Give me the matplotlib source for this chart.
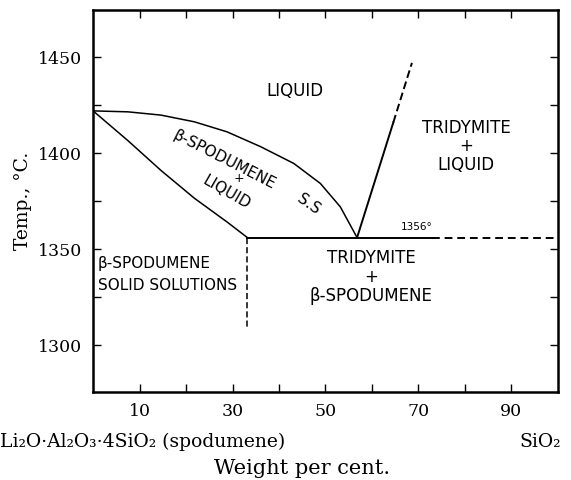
import numpy as np
import matplotlib
matplotlib.use("Agg")
import matplotlib.pyplot as plt

# liquidus of beta-spodumene s.s. (upper curve)
liq_x = [0, 7.5, 14.6, 21.8, 28.8, 36.1, 43.2, 48.9, 53.2, 56.8]
liq_t = [1422, 1421.5, 1419.8, 1416.3, 1411.1, 1403.3, 1394.6, 1384.2, 1372, 1356]
# solidus of the solid solutions (lower curve)
sol_x = [0, 7.5, 14.6, 21.8, 28.9, 33.2]
sol_t = [1422, 1406.5, 1391, 1376.5, 1364, 1356]
# tridymite liquidus
tri_solid_x = [56.8, 64.6]
tri_solid_t = [1356, 1416]
tri_dash_x = [64.6, 68.6]
tri_dash_t = [1416, 1447]
# 1356 isotherm
iso_solid_x = [33.2, 73]
iso_dash_x = [73, 100]
iso_t = 1356
# limit of solid solutions
ss_x = 33.2
ss_t = [1356, 1309]

xticks = [10, 20, 30, 40, 50, 60, 70, 80, 90]
xlabels = ["10", "", "30", "", "50", "", "70", "", "90"]
yticks = [1300, 1325, 1350, 1375, 1400, 1425, 1450]
ylabels = ["1300", "", "1350", "", "1400", "", "1450"]

SERIF = ["DejaVu Serif"]
HAND = "DejaVu Sans"

fig = plt.figure(figsize=(5.71, 4.8), dpi=100)
ax = fig.add_axes([0.163, 0.183, 0.814, 0.796])

lw = 1.1
ax.plot(liq_x, liq_t, color="black", lw=lw)
ax.plot(sol_x, sol_t, color="black", lw=lw)
ax.plot(tri_solid_x, tri_solid_t, color="black", lw=lw + 0.3)
ax.plot(tri_dash_x, tri_dash_t, color="black", lw=lw + 0.3, ls=(0, (4, 2)))
ax.plot(iso_solid_x, [iso_t, iso_t], color="black", lw=lw + 0.3)
ax.plot(iso_dash_x, [iso_t, iso_t], color="black", lw=lw + 0.3, ls=(0, (4, 2.5)))
ax.plot([ss_x, ss_x], ss_t, color="black", lw=lw, ls=(0, (4, 2)))

ax.set_xlim(0, 100)
ax.set_ylim(1275.5, 1474.5)

ax.set_xticks(xticks)
ax.set_xticklabels(xlabels, family=SERIF, fontsize=12.5)
ax.set_yticks(yticks)
ax.set_yticklabels(ylabels, family=SERIF, fontsize=12.5)
ax.tick_params(direction="in", length=6, width=1, top=True, right=True, pad=8)
for s in ax.spines.values():
    s.set_linewidth(1.8)

ax.set_ylabel("Temp., °C.", family=SERIF, fontsize=13.5, labelpad=4)

# region labels
ax.text(43.4, 1432.3, "LIQUID", family=HAND, fontsize=12, ha="center", va="center")
ax.text(28.3, 1396.4, "β-SPODUMENE", family=HAND, fontsize=11, ha="center", va="center",
        rotation=-27)
ax.text(31.4, 1387, "+", family=HAND, fontsize=9, ha="center", va="center")
ax.text(28.8, 1379.7, "LIQUID", family=HAND, fontsize=11, ha="center", va="center",
        rotation=-30)
ax.text(46.4, 1373.4, "S.S", family=HAND, fontsize=11, ha="center", va="center",
        rotation=-35)
ax.text(80.3, 1403.6, "TRIDYMITE\n+\nLIQUID", family=HAND, fontsize=12, ha="center",
        va="center", linespacing=1.05)
ax.text(69.6, 1361.5, "1356°", family=HAND, fontsize=7.5, ha="center", va="center")
ax.text(59.8, 1335.5, "TRIDYMITE\n+\nβ-SPODUMENE", family=HAND, fontsize=12,
        ha="center", va="center", linespacing=1.05)
ax.text(1.0, 1336.7, "β-SPODUMENE\nSOLID SOLUTIONS", family=HAND, fontsize=11,
        ha="left", va="center", linespacing=1.55)

# composition end members and axis title
fig.text(0.0, 0.079, "Li₂O·Al₂O₃·4SiO₂ (spodumene)", family=SERIF, fontsize=13.5,
         ha="left", va="center")
fig.text(0.982, 0.079, "SiO₂", family=SERIF, fontsize=13.5, ha="right", va="center")
fig.text(0.529, 0.025, "Weight per cent.", family=SERIF, fontsize=15, ha="center",
         va="center")

fig.savefig("out.png", dpi=100)
